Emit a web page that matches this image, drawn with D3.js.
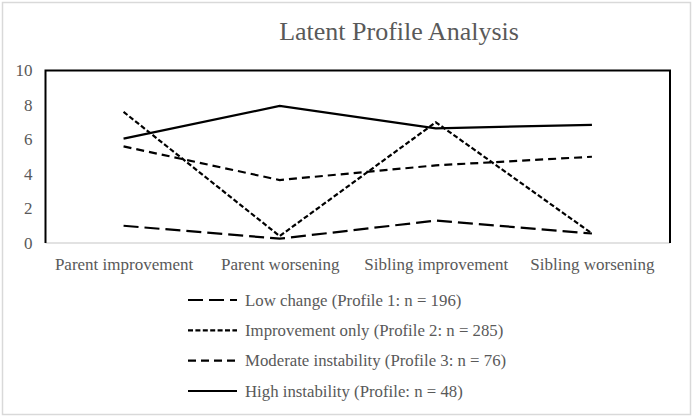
<!DOCTYPE html>
<html><head><meta charset="utf-8">
<script src="https://cdn.jsdelivr.net/npm/d3@7"></script>
<style>html,body{margin:0;padding:0;background:#fff;}svg{display:block;}</style>
</head><body>
<svg id="chart" width="694" height="419"></svg>
<script>
const title = "Latent Profile Analysis";
const categories = ["Parent improvement","Parent worsening","Sibling improvement","Sibling worsening"];
const yTicks = [0,2,4,6,8,10];
const seriesNames = ["Low change (Profile 1: n = 196)","Improvement only (Profile 2: n = 285)","Moderate instability (Profile 3: n = 76)","High instability (Profile: n = 48)"];
const lowChange = [1.0, 0.25, 1.3, 0.55];
const improvementOnly = [7.6, 0.4, 7.0, 0.55];
const moderateInstability = [5.6, 3.65, 4.5, 5.0];
const highInstability = [6.05, 7.95, 6.65, 6.85];
const dashes = ["15,6","5,2.4","8,5",null];

const series = [lowChange, improvementOnly, moderateInstability, highInstability].map((v,i)=>({name:seriesNames[i], values:v, dash:dashes[i]}));

const svg = d3.select("#chart");
const m = {left:45.5, right:670, top:70.5, bottom:243};
const x = d3.scalePoint().domain(categories).range([m.left, m.right]).padding(0.5);
const y = d3.scaleLinear().domain([0,10]).range([m.bottom, m.top]);
const textColor = "#595959";
const font = "'Liberation Serif','Times New Roman',serif";

// outer frame
svg.append("rect").attr("x",2.5).attr("y",2.5).attr("width",688).attr("height",412)
  .attr("fill","#fff").attr("stroke","#d9d9d9").attr("stroke-width",1.5);

// title
svg.append("text").attr("x",399).attr("y",40).attr("text-anchor","middle")
  .attr("font-family",font).attr("font-size",26).attr("fill",textColor).text(title);

// y axis labels
const yAxis = d3.axisLeft(y).tickValues(yTicks).tickSize(0).tickPadding(13);
const ya = svg.append("g").attr("transform",`translate(${m.left},0)`).call(yAxis);
ya.select(".domain").remove();
ya.selectAll("text").attr("font-family",font).attr("font-size",17).attr("fill",textColor);

// x axis
const xAxis = d3.axisBottom(x).tickSize(0).tickPadding(15);
const xa = svg.append("g").attr("transform",`translate(0,${m.bottom})`).call(xAxis);
xa.select(".domain").attr("stroke","#d9d9d9").attr("stroke-width",1.5)
  .attr("d",`M${m.left},0H${m.right}`);
xa.selectAll("text").attr("font-family",font).attr("font-size",17).attr("fill",textColor);

// plot box (top, left, right black)
svg.append("path").attr("d",`M${m.left},${m.bottom}V${m.top}H${m.right}V${m.bottom}`)
  .attr("fill","none").attr("stroke","#000").attr("stroke-width",2);

// lines
const line = d3.line().x((d,i)=>x(categories[i])).y(d=>y(d));
svg.append("g").selectAll("path").data(series).join("path")
  .attr("d",d=>line(d.values)).attr("fill","none").attr("stroke","#000")
  .attr("stroke-width",2.2).attr("stroke-dasharray",d=>d.dash);

// legend
const legendY = d3.scalePoint().domain(seriesNames).range([300,391]);
const lg = svg.append("g").selectAll("g").data(series).join("g")
  .attr("transform",d=>`translate(0,${legendY(d.name)})`);
lg.append("line").attr("x1",188).attr("x2",237).attr("y1",0).attr("y2",0)
  .attr("stroke","#000").attr("stroke-width",2.2).attr("stroke-dasharray",d=>d.dash);
lg.append("text").attr("x",245).attr("y",5.8).attr("font-family",font).attr("font-size",16.8)
  .attr("fill",textColor).text(d=>d.name);
</script>
</body></html>
